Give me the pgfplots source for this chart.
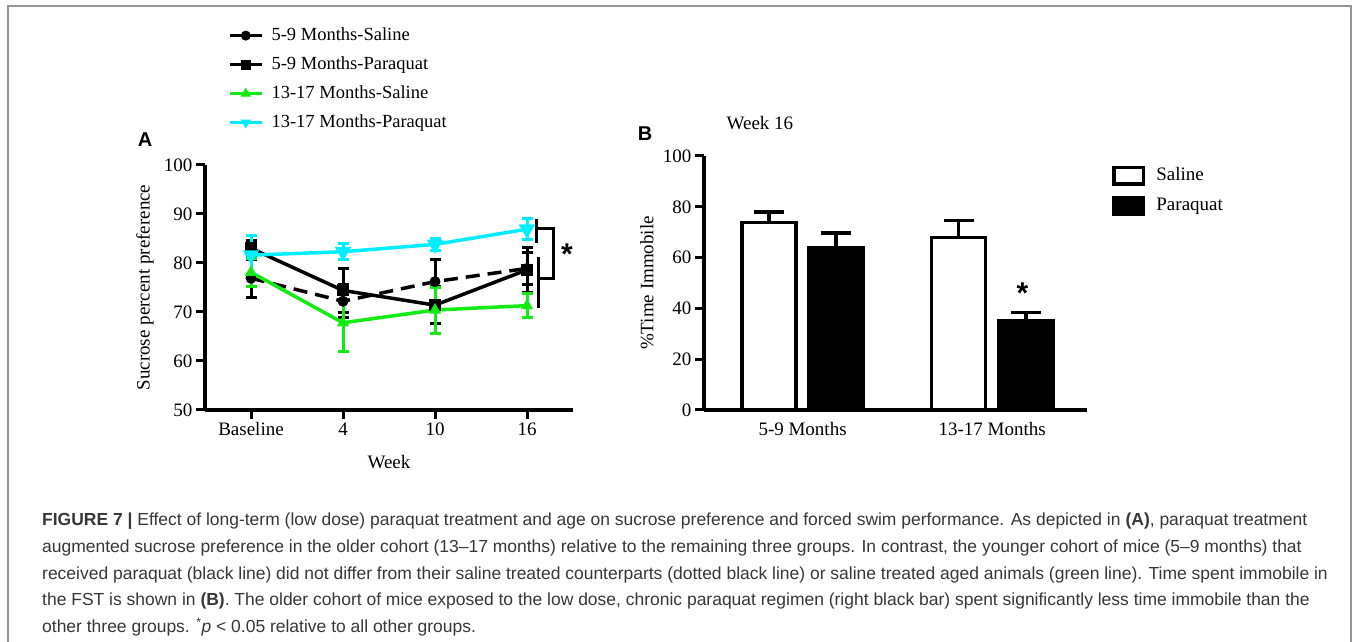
\documentclass[border=0pt]{standalone}
\usepackage{fontspec}
\setmainfont{Liberation Serif}
\newfontfamily\capfont{Liberation Sans}
\usepackage{pgfplots}
\usepackage{pgfplotstable}
\pgfplotsset{compat=1.18}

\definecolor{aqua}{RGB}{0,238,255}
\definecolor{lime}{RGB}{20,235,20}
\definecolor{framegray}{RGB}{150,150,150}
\definecolor{captext}{RGB}{55,55,55}

% Panel A: sucrose preference (mean, SEM) at baseline and weeks 4, 10, 16
\pgfplotstableread{
x y err
0 76.9 3.9
1 72.2 3.4
2 76.2 4.6
3 78.9 3.3
}\youngSaline
\pgfplotstableread{
x y err
0 83.0 1.6
1 74.4 4.5
2 71.4 3.8
3 78.6 4.6
}\youngParaquat
\pgfplotstableread{
x y err
0 78.1 2.8
1 67.8 5.9
2 70.4 4.7
3 71.3 2.5
}\oldSaline
\pgfplotstableread{
x y err
0 81.6 4.0
1 82.3 1.6
2 83.8 1.3
3 86.9 2.2
}\oldParaquat

\newlength\capw
\settowidth\capw{\capfont\fontsize{10}{12}\selectfont\textbf{FIGURE 7 |} Effect of long-term (low dose) paraquat treatment and age on sucrose preference and forced swim performance. As depicted in \textbf{(A)}, paraquat treatment}
\pgfmathsetmacro\capsize{10*1265/\the\capw}

\begin{document}
\begin{tikzpicture}[x=1pt,y=1pt]
\useasboundingbox (0,0) rectangle (1354,642);
\draw[framegray, line width=1.5pt] (8,-10) -- (8,636) -- (1351,636) -- (1351,-10);

\pgfplotsset{
  panel/.style={
    scale only axis, clip=false,
    axis x line*=bottom, axis y line*=left,
    x axis line style={-}, y axis line style={-},
    axis line style={line width=3.5pt, black},
    tick style={line width=3pt, black},
    tick align=outside, major tick length=9pt,
    tick label style={font=\fontsize{19}{23}\selectfont},
    /pgf/number format/assume math mode=true,
    label style={font=\fontsize{19}{23}\selectfont},
  }
}

% ---------- Panel A ----------
\begin{axis}[panel,
  width=368pt, height=245pt, at={(205pt,232pt)}, anchor=south west,
  xmin=-0.5, xmax=3.5, ymin=50, ymax=100,
  xtick={0,1,2,3}, xticklabels={Baseline,4,10,16},
  ytick={50,60,...,100},
  xlabel={Week}, ylabel={Sucrose percent preference},
  xlabel style={at={(axis description cs:0.5,0)}, anchor=center, yshift=-52pt},
  ylabel style={at={(axis description cs:-0.163,0.5)}, anchor=center},
  legend style={at={(axis description cs:0.054,1.58)}, anchor=north west,
    draw=none, fill=none, font=\fontsize{18.5}{22}\selectfont,
    nodes={text height=13pt, text depth=4pt}, row sep=8pt, column sep=6pt},
  legend cell align=left,
  legend image code/.code={
    \draw[#1, mark=none, solid] (0pt,0pt) -- (32pt,0pt);
    \draw[#1, only marks] plot coordinates {(16pt,0pt)};
  },
  series/.style={line width=3.5pt, mark options={solid, line width=1pt},
    error bars/y dir=both, error bars/y explicit,
    error bars/error bar style={line width=3pt, solid},
    error bars/error mark options={rotate=90, line width=3pt, mark size=5.5pt, solid}},
]
\addlegendimage{black, line width=3.5pt, mark=*, mark size=4.5pt, mark options={line width=1pt}}
\addlegendentry{5-9 Months-Saline}
\addlegendimage{black, line width=3.5pt, mark=square*, mark size=4.5pt, mark options={line width=1pt}}
\addlegendentry{5-9 Months-Paraquat}
\addlegendimage{lime, line width=3.5pt, mark=triangle*, mark size=5pt, mark options={line width=1pt}}
\addlegendentry{13-17 Months-Saline}
\addlegendimage{aqua, line width=3.5pt, mark=triangle*, mark size=5pt, mark options={rotate=180, line width=1pt}}
\addlegendentry{13-17 Months-Paraquat}

\addplot[black, series, dash pattern=on 14pt off 8pt, mark=*, mark size=5pt,
  forget plot] table[x=x, y=y, y error=err] {\youngSaline};
\addplot[black, series, mark=square*, mark size=5.5pt,
  forget plot] table[x=x, y=y, y error=err] {\youngParaquat};
\addplot[lime, series, mark=triangle*, mark size=6pt,
  forget plot] table[x=x, y=y, y error=err] {\oldSaline};
\addplot[aqua, series, mark=triangle*, mark size=6pt, mark options={rotate=180},
  forget plot] table[x=x, y=y, y error=err] {\oldParaquat};

% significance bracket at week 16
\draw[black, line width=3pt] (axis cs:3.098,89.0) -- (axis cs:3.098,84.1);
\draw[black, line width=3pt] (axis cs:3.098,87.1) -- (axis cs:3.293,87.1)
  -- (axis cs:3.293,76.9) -- (axis cs:3.12,76.9);
\draw[black, line width=3pt] (axis cs:3.12,81.2) -- (axis cs:3.12,70.8);
\node[font=\capfont\bfseries\fontsize{30}{30}\selectfont, inner sep=0pt]
  at (axis cs:3.435,81.9) {*};
\end{axis}

% ---------- Panel B ----------
\begin{axis}[panel,
  width=383pt, height=254pt, at={(704pt,232pt)}, anchor=south west,
  xmin=-0.52, xmax=1.5, ymin=0, ymax=100,
  xtick={0,1}, xticklabels={5-9 Months,13-17 Months},
  x tick style={draw=none},
  ytick={0,20,...,100},
  ylabel={\%Time Immobile},
  ylabel style={at={(axis description cs:-0.149,0.5)}, anchor=center},
  title={Week 16},
  title style={at={(axis description cs:0.146,1.105)}, anchor=center,
    font=\fontsize{19}{23}\selectfont},
  bar width=0.285,
  legend style={at={(axis description cs:1.058,0.973)}, anchor=north west,
    draw=none, fill=none, font=\fontsize{19}{23}\selectfont,
    nodes={text height=13pt, text depth=4pt}, row sep=9pt, column sep=9pt},
  legend cell align=left,
  legend image code/.code={
    \draw[#1] (1.75pt,-8.25pt) rectangle (31.25pt,8.25pt);
  },
  barerr/.style={error bars/y dir=plus, error bars/y explicit,
    error bars/error bar style={line width=3.5pt, black},
    error bars/error mark options={rotate=90, line width=3.5pt, mark size=15pt, black}},
]
\addplot[ybar, bar shift=0pt, fill=white, draw=black, line width=3.5pt, barerr]
  coordinates {(-0.177,73.9) +- (0,4.0) (0.823,68.0) +- (0,6.7)};
\addlegendentry{Saline}
\addplot[ybar, bar shift=0pt, fill=black, draw=black, line width=3.5pt, barerr]
  coordinates {(0.177,64.0) +- (0,5.6) (1.177,35.2) +- (0,3.1)};
\addlegendentry{Paraquat}
\node[font=\capfont\bfseries\fontsize{30}{30}\selectfont, inner sep=0pt]
  at (axis cs:1.160,46.0) {*};
\end{axis}

% panel letters
\node[font=\capfont\bfseries\fontsize{20}{24}\selectfont] at (145,502) {A};
\node[font=\capfont\bfseries\fontsize{20}{24}\selectfont] at (645,508) {B};

% caption
\begin{scope}[every node/.style={anchor=base west, inner sep=0pt, text=captext,
    font=\capfont\fontsize{\capsize}{\capsize}\selectfont}]
\node at (42,116) {\textbf{FIGURE 7 |} Effect of long-term (low dose) paraquat treatment and age on sucrose preference and forced swim performance. As depicted in \textbf{(A)}, paraquat treatment};
\node at (42,89.5) {augmented sucrose preference in the older cohort (13\textendash 17 months) relative to the remaining three groups. In contrast, the younger cohort of mice (5\textendash 9 months) that};
\node at (42,62.5) {received paraquat (black line) did not differ from their saline treated counterparts (dotted black line) or saline treated aged animals (green line). Time spent immobile in};
\node at (42,36) {the FST is shown in \textbf{(B)}. The older cohort of mice exposed to the low dose, chronic paraquat regimen (right black bar) spent significantly less time immobile than the};
\node at (42,9.5) {other three groups. \textsuperscript{*}\textit{p} < 0.05 relative to all other groups.};
\end{scope}
\end{tikzpicture}
\end{document}
